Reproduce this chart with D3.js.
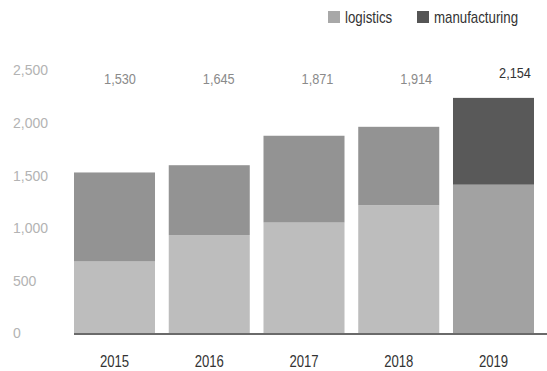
<!DOCTYPE html>
<html><head><meta charset="utf-8">
<script src="https://cdn.jsdelivr.net/npm/d3@7"></script>
<style>body{margin:0;background:#fff}svg{display:block}</style>
</head><body>
<svg id="c" width="547" height="371"></svg>
<script>
const years = ["2015","2016","2017","2018","2019"];
const logistics = [680, 930, 1050, 1215, 1410];
const manufacturing = [846, 665, 825, 745, 825];
const totalLabels = ["1,530","1,645","1,871","1,914","2,154"];
const yTicks = [0, 500, 1000, 1500, 2000, 2500];
const seriesNames = ["logistics","manufacturing"];

const svg = d3.select("#c");
const font = "'Liberation Sans',Arial,sans-serif";
const y = d3.scaleLinear().domain([0,2500]).range([333,70]);
const x = d3.scaleBand().domain(years).range([74,534]).paddingInner(0.145).paddingOuter(0);
const xl = d3.scalePoint().domain(years).range([120,515]);

// horizontal condensing helper (narrow-font look)
function condense(sel, k, xf){
  sel.attr("transform", function(d,i){ const xx = xf(d,i); return `translate(${xx},0) scale(${k},1) translate(${-xx},0)`; });
}

const data = years.map((yr,i)=>({year:yr, logistics:logistics[i], manufacturing:manufacturing[i]}));
const stack = d3.stack().keys(seriesNames)(data);
const hi = "2019";
const colors = {
  logistics: d => d.data.year===hi ? "#a2a2a2" : "#bdbdbd",
  manufacturing: d => d.data.year===hi ? "#595959" : "#939393"
};

// y tick labels
const yAxis = d3.axisLeft(y).tickValues(yTicks).tickFormat(d3.format(",")).tickSize(0);
const ga = svg.append("g").attr("transform","translate(13,0)").call(yAxis);
ga.select(".domain").remove();
ga.selectAll("text").attr("text-anchor","start").attr("x",0).attr("dy","0.35em")
  .attr("fill","#b3b3b3").style("font-family",font).style("font-size","14px");

// bars
stack.forEach(s=>{
  svg.append("g").selectAll("rect").data(s).join("rect")
    .attr("x", d=>x(d.data.year)).attr("width", x.bandwidth())
    .attr("y", d=>y(d[1])).attr("height", d=>y(d[0])-y(d[1]))
    .attr("fill", colors[s.key]);
});

// baseline
svg.append("line").attr("x1",74).attr("x2",547).attr("y1",y(0)+1).attr("y2",y(0)+1)
  .attr("stroke","#6a6a6a").attr("stroke-width",2);

// x labels
svg.append("g").selectAll("text").data(years).join("text")
  .attr("x", d=>x(d)+x.bandwidth()/2).attr("y", y(0)+28).attr("dy","0.35em")
  .attr("text-anchor","middle").attr("fill","#333")
  .style("font-family",font).style("font-size","16px")
  .text(d=>d)
  .call(condense, 0.82, d=>x(d)+x.bandwidth()/2);

// totals
svg.append("g").selectAll("text").data(years).join("text")
  .attr("x", d=>xl(d)).attr("y", d=> d===hi ? 73 : 79).attr("dy","0.35em")
  .attr("text-anchor","middle")
  .attr("fill", d=> d===hi ? "#333" : "#8a8a8a")
  .style("font-family",font).style("font-size","15px")
  .text((d,i)=>totalLabels[i])
  .call(condense, 0.85, d=>xl(d));

// legend
const leg = svg.append("g");
const legX = [328, 417];
const legCol = ["#a8a8a8","#555555"];
seriesNames.forEach((n,i)=>{
  leg.append("rect").attr("x",legX[i]).attr("y",11).attr("width",12).attr("height",12).attr("fill",legCol[i]);
  leg.append("text").datum(n).attr("x",legX[i]+17).attr("y",17).attr("dy","0.35em").attr("fill","#333")
    .style("font-family",font).style("font-size","16px").text(n)
    .call(condense, 0.83, ()=>legX[i]+17);
});
</script>
</body></html>
